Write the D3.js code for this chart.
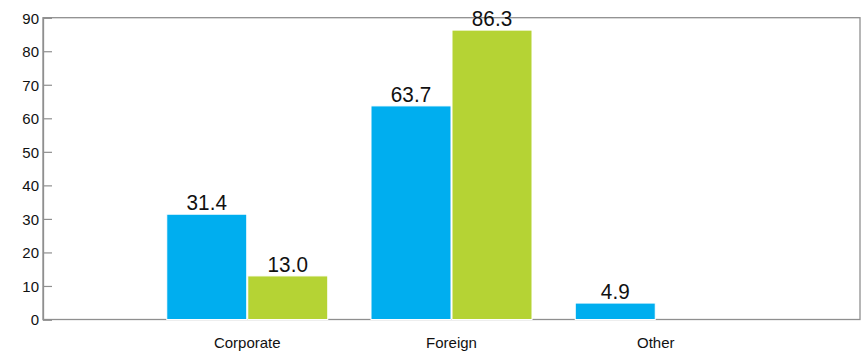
<!DOCTYPE html>
<html>
<head>
<meta charset="utf-8">
<script src="https://cdn.jsdelivr.net/npm/d3@7"></script>
<style>
  html, body { margin: 0; padding: 0; background: #fff; }
  svg { display: block; font-family: "Liberation Sans", Arial, sans-serif; }
</style>
</head>
<body>
<svg id="chart" width="863" height="352"></svg>
<script>
// Categories and the two series plotted per category
const categories = ["Corporate", "Foreign", "Other"];
const seriesBlue = [31.4, 63.7, 4.9];
const seriesGreen = [13.0, 86.3, null];
const yTicks = [0, 10, 20, 30, 40, 50, 60, 70, 80, 90];

const colors = { blue: "#00aeef", green: "#b5d334" };

const svg = d3.select("#chart");
const plot = { left: 43, right: 860, top: 17.7, bottom: 319.5 };

// Categories sit at positions 1..3 on a 0..4 axis
const x = d3.scaleLinear().domain([0, categories.length + 1]).range([plot.left, plot.right]);
const y = d3.scaleLinear().domain([0, 90]).range([plot.bottom, plot.top]);
const barW = 80;

// Plot frame
svg.append("rect")
  .attr("x", plot.left).attr("y", plot.top)
  .attr("width", plot.right - plot.left).attr("height", plot.bottom - plot.top)
  .attr("fill", "none").attr("stroke", "#8f8f8f").attr("stroke-width", 1.3);

// Y axis with inward ticks
const yAxis = d3.axisRight(y).tickValues(yTicks).tickSize(9).tickFormat(d3.format("d"));
const gy = svg.append("g").attr("transform", `translate(${plot.left},0)`).call(yAxis);
gy.select(".domain").attr("stroke", "#8f8f8f").attr("stroke-width", 1.3);
gy.selectAll(".tick line").attr("stroke", "#8f8f8f").attr("stroke-width", 1.2);
gy.selectAll(".tick text")
  .attr("x", -4).attr("text-anchor", "end").attr("dy", "0.36em")
  .attr("font-size", 15).attr("fill", "#111");

// Bars: blue to the left of each category point, green to the right
const bars = [];
categories.forEach((c, i) => {
  if (seriesBlue[i] != null) bars.push({ c, i: i + 1, v: seriesBlue[i], side: -1, color: colors.blue });
  if (seriesGreen[i] != null) bars.push({ c, i: i + 1, v: seriesGreen[i], side: 1, color: colors.green });
});

svg.append("g").selectAll("rect").data(bars).join("rect")
  .attr("x", d => d.side < 0 ? x(d.i) - barW - 0.5 : x(d.i) + 0.5)
  .attr("y", d => y(d.v))
  .attr("width", barW)
  .attr("height", d => y(0) - y(d.v))
  .attr("fill", d => d.color)
  .attr("stroke", "#fff").attr("stroke-width", 1);

// Value labels above the bars (slightly condensed type)
svg.append("g").selectAll("text").data(bars).join("text")
  .attr("transform", d => {
    const cx = d.side < 0 ? x(d.i) - barW / 2 - 0.5 : x(d.i) + barW / 2 + 0.5;
    return `translate(${cx},${y(d.v) - 4}) scale(0.92,1)`;
  })
  .attr("text-anchor", "middle")
  .attr("font-size", 22.5)
  .attr("fill", "#111")
  .text(d => d.v.toFixed(1));

// Category labels
svg.append("g").selectAll("text").data(categories).join("text")
  .attr("x", (d, i) => x(i + 1))
  .attr("y", 348)
  .attr("text-anchor", "middle")
  .attr("font-size", 15)
  .attr("fill", "#111")
  .text(d => d);
</script>
</body>
</html>
